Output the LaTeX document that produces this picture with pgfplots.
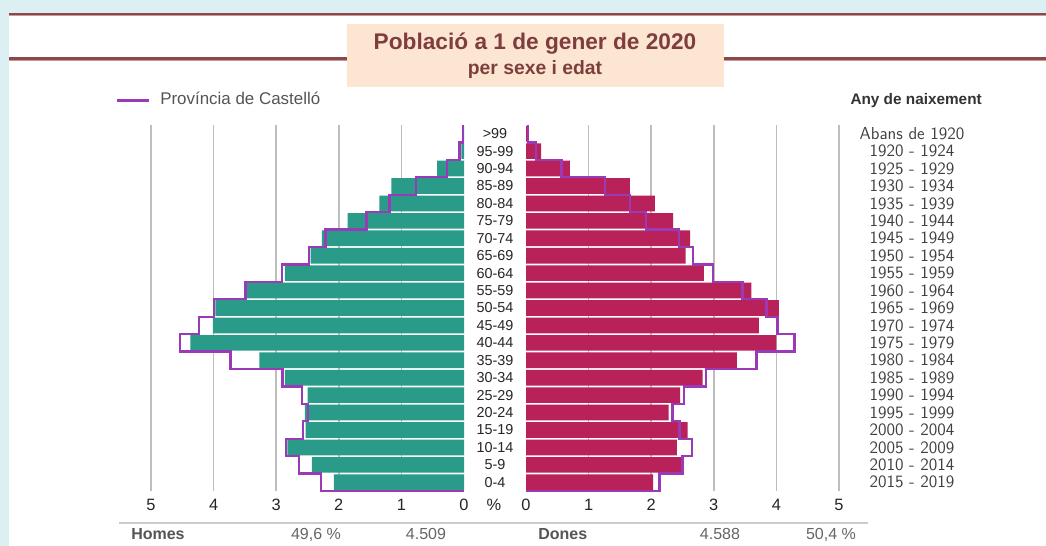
\documentclass[border=0pt]{standalone}
\usepackage{fontspec}
\setmainfont{Liberation Sans}
\usepackage{pgfplots}
\usepackage{pgfplotstable}
\pgfplotsset{compat=1.18}
\definecolor{bgcyan}{HTML}{DCF0F3}
\definecolor{linered}{HTML}{8A4848}
\definecolor{linepink}{HTML}{C49A9A}
\definecolor{titlebox}{HTML}{FDE6D1}
\definecolor{titletext}{HTML}{7E3E3E}
\definecolor{myteal}{HTML}{2A9A89}
\definecolor{mycrimson}{HTML}{B8215A}
\definecolor{mypurple}{HTML}{9A3AB6}
\definecolor{gridgray}{HTML}{BDBDBD}
\definecolor{txtgray}{HTML}{555555}

% age row, male (negative), female
\pgfplotstableread{
row m f
0 -2.08 2.03
1 -2.43 2.51
2 -2.82 2.41
3 -2.53 2.58
4 -2.54 2.28
5 -2.50 2.46
6 -2.86 2.82
7 -3.27 3.37
8 -4.37 4.00
9 -4.01 3.72
10 -3.97 4.04
11 -3.48 3.60
12 -2.86 2.84
13 -2.45 2.55
14 -2.27 2.62
15 -1.86 2.35
16 -1.35 2.06
17 -1.16 1.66
18 -0.43 0.70
19 -0.04 0.24
20 -0.01 0.03
}\pyramid

\pgfplotsset{pyr/.style={
  scale only axis, width=234.75pt, height=274.5pt,
  bar width=0.9, bar shift=0pt,
  ymin=-0.5, ymax=20.5, ytick={0,...,20},
  axis line style={draw=none}, major tick length=0pt,
  xmajorgrids, grid style={gridgray, line width=1.3pt},
  clip=false,
  xticklabel style={font=\fontsize{12.3}{12.3}\selectfont, text=black!85, anchor=base, yshift=-14.8pt},
  extra x tick style={grid=none},
  yticklabel pos=right,
}}

\begin{document}
\begin{tikzpicture}[x=0.75pt,y=0.75pt]
\useasboundingbox (0,0) rectangle (1046,546);
\fill[bgcyan] (0,0) rectangle (1046,546);
\fill[white] (9,0) rectangle (1046,532.5);
\draw[linered, line width=1.6pt] (9,532) -- (1046,532);
\draw[linepink, line width=0.8pt] (9,530.3) -- (1046,530.3);
\draw[linered, line width=1.6pt] (9,487.5) -- (1046,487.5);
\draw[linepink, line width=0.8pt] (9,485.8) -- (1046,485.8);
\fill[titlebox] (347,459) rectangle (724,522);
\node[anchor=base, text=titletext, font=\fontsize{17}{17}\selectfont\bfseries, inner sep=0] at (535,496) {Població a 1 de gener de 2020};
\node[anchor=base, text=titletext, font=\fontsize{14.5}{14.5}\selectfont\bfseries, inner sep=0] at (535,471) {per sexe i edat};

% legend
\draw[mypurple, line width=2.3pt] (117,445.3) -- (149,445.3);
\node[anchor=base west, text=txtgray, font=\fontsize{12.7}{12.7}\selectfont, inner sep=0] at (160,441) {Província de Castelló};
\node[anchor=base east, text=black!80, font=\fontsize{11.5}{11.5}\selectfont\bfseries, inner sep=0] at (982,441) {Any de naixement};

% left (men)
\begin{axis}[pyr, at={(113.25pt,41.25pt)}, anchor=south west,
  xmin=-5, xmax=0,
  xtick={-5,-4,-3,-2,-1}, xticklabels={5,4,3,2,1},
  extra x ticks={0}, extra x tick labels={0},
  yticklabels={0-4,5-9,10-14,15-19,20-24,25-29,30-34,35-39,40-44,45-49,50-54,55-59,60-64,65-69,70-74,75-79,80-84,85-89,90-94,95-99,>99},
  yticklabel style={font=\fontsize{10.8}{10.8}\selectfont, text=black!85, anchor=center, xshift=23.25pt},
]
\addplot[xbar, fill=myteal, draw=none] table[x=m, y=row] {\pyramid};
\addplot[sharp plot, mypurple, line width=1.8pt, line join=miter, mark=none] coordinates {
(0,-0.5) (-2.28,-0.5) (-2.28,0.5) (-2.64,0.5) (-2.64,1.5) (-2.84,1.5) (-2.84,2.5)
(-2.57,2.5) (-2.57,3.5) (-2.49,3.5) (-2.49,4.5) (-2.59,4.5) (-2.59,5.5)
(-2.90,5.5) (-2.90,6.5) (-3.73,6.5) (-3.73,7.5) (-4.54,7.5) (-4.54,8.5)
(-4.23,8.5) (-4.23,9.5) (-3.99,9.5) (-3.99,10.5) (-3.49,10.5) (-3.49,11.5)
(-2.91,11.5) (-2.91,12.5) (-2.48,12.5) (-2.48,13.5) (-2.21,13.5) (-2.21,14.5)
(-1.56,14.5) (-1.56,15.5) (-1.19,15.5) (-1.19,16.5) (-0.77,16.5) (-0.77,17.5)
(-0.27,17.5) (-0.27,18.5) (-0.07,18.5) (-0.07,19.5) (-0.02,19.5) (-0.02,20.5)
};
\end{axis}

% right (women)
\begin{axis}[pyr, at={(394.5pt,41.25pt)}, anchor=south west,
  xmin=0, xmax=5,
  xtick={1,2,3,4,5}, xticklabels={1,2,3,4,5},
  extra x ticks={0}, extra x tick labels={0},
  yticklabels={2015 - 2019,2010 - 2014,2005 - 2009,2000 - 2004,1995 - 1999,1990 - 1994,1985 - 1989,1980 - 1984,1975 - 1979,1970 - 1974,1965 - 1969,1960 - 1964,1955 - 1959,1950 - 1954,1945 - 1949,1940 - 1944,1935 - 1939,1930 - 1934,1925 - 1929,1920 - 1924,Abans de 1920},
  yticklabel style={font=\sffamily\fontsize{13}{13}\selectfont, text=black!75, anchor=center, xshift=54.75pt},
]
\addplot[xbar, fill=mycrimson, draw=none] table[x=f, y=row] {\pyramid};
\addplot[sharp plot, mypurple, line width=1.8pt, line join=miter, mark=none] coordinates {
(0,-0.5) (2.13,-0.5) (2.13,0.5) (2.50,0.5) (2.50,1.5) (2.65,1.5) (2.65,2.5)
(2.45,2.5) (2.45,3.5) (2.34,3.5) (2.34,4.5) (2.52,4.5) (2.52,5.5)
(2.88,5.5) (2.88,6.5) (3.68,6.5) (3.68,7.5) (4.29,7.5) (4.29,8.5)
(4.02,8.5) (4.02,9.5) (3.84,9.5) (3.84,10.5) (3.46,10.5) (3.46,11.5)
(2.99,11.5) (2.99,12.5) (2.67,12.5) (2.67,13.5) (2.44,13.5) (2.44,14.5)
(1.92,14.5) (1.92,15.5) (1.66,15.5) (1.66,16.5) (1.26,16.5) (1.26,17.5)
(0.57,17.5) (0.57,18.5) (0.16,18.5) (0.16,19.5) (0.03,19.5) (0.03,20.5)
};
\end{axis}

\node[anchor=base, text=black!85, font=\fontsize{12.3}{12.3}\selectfont, inner sep=0] at (494,35.3) {\%};

% bottom summary
\draw[black!20, line width=2.2pt] (119,23) -- (868,23);
\node[anchor=base west, text=txtgray, font=\fontsize{12}{12}\selectfont\bfseries, inner sep=0] at (131,6) {Homes};
\node[anchor=base, text=black!60, font=\fontsize{12}{12}\selectfont, inner sep=0] at (316,6) {49,6 \%};
\node[anchor=base, text=black!60, font=\fontsize{12}{12}\selectfont, inner sep=0] at (426,6) {4.509};
\node[anchor=base west, text=txtgray, font=\fontsize{12}{12}\selectfont\bfseries, inner sep=0] at (538,6) {Dones};
\node[anchor=base, text=black!60, font=\fontsize{12}{12}\selectfont, inner sep=0] at (720,6) {4.588};
\node[anchor=base, text=black!60, font=\fontsize{12}{12}\selectfont, inner sep=0] at (831,6) {50,4 \%};
\end{tikzpicture}
\end{document}
